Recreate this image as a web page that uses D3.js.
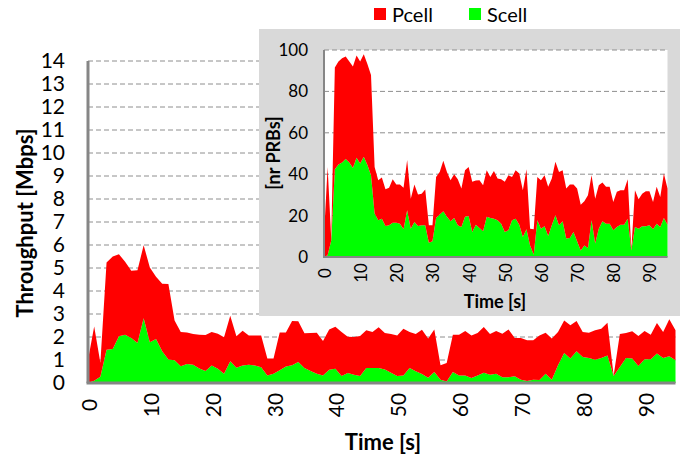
<!DOCTYPE html>
<html>
<head>
<meta charset="utf-8">
<script src="https://cdn.jsdelivr.net/npm/d3@7"></script>
<style>
body { margin: 0; background: #fff; }
svg text { font-family: Lato, "Open Sans", sans-serif; fill: #000; }
</style>
</head>
<body>
<div id="chart"></div>
<script>
// Data (1 sample per second)
// ============================================================================
const seconds = d3.range(0, 96);

// main chart, throughput [Mbps]
const mainScell = [0, 0.1, 0.27, 1.45, 1.48, 2.03, 2.1, 1.96, 1.74, 2.82,
    1.77, 1.91, 1.38, 1.02, 0.99, 0.73, 0.83, 0.79, 0.63, 0.52,
    0.76, 0.62, 0.4, 0.95, 0.66, 0.76, 0.79, 0.76, 0.69, 0.33,
    0.4, 0.55, 0.72, 0.77, 0.91, 0.65, 0.52, 0.4, 0.33, 0.58,
    0.62, 0.3, 0.43, 0.36, 0.3, 0.65, 0.65, 0.65, 0.59, 0.45,
    0.3, 0.33, 0.65, 0.51, 0.39, 0.23, 0.48, 0.14, 0.07, 0.48,
    0.33, 0.33, 0.22, 0.33, 0.45, 0.36, 0.4, 0.25, 0.25, 0.29,
    0.14, 0.09, 0.14, 0.13, 0.4, 0.14, 0.77, 1.3, 1.06, 1.38,
    1.13, 1.09, 1.01, 1.09, 1.2, 0.3, 0.7, 1.09, 1.06, 0.74,
    1.03, 1.03, 1.28, 1.09, 1.16, 0.99];
const mainPcell = [1.0, 2.36, 0.61, 3.79, 4.02, 3.57, 3.17, 2.92, 3.16, 3.17,
    3.25, 2.71, 2.94, 3.28, 1.73, 1.49, 1.37, 1.34, 1.47, 1.57,
    1.46, 1.52, 1.59, 1.97, 1.37, 1.51, 1.27, 1.31, 1.37, 0.73,
    0.66, 1.65, 1.48, 1.93, 1.77, 1.51, 1.65, 1.79, 1.5, 1.75,
    1.83, 1.92, 1.58, 1.64, 1.74, 1.64, 1.57, 1.77, 1.58, 1.68,
    1.77, 2.03, 1.57, 1.62, 1.93, 1.7, 1.85, 0.63, 0.8, 1.62,
    1.77, 1.93, 1.85, 1.84, 1.98, 1.77, 1.86, 1.89, 2.08, 1.67,
    1.82, 1.77, 1.72, 1.94, 1.79, 1.79, 1.45, 1.42, 1.45, 1.32,
    1.09, 1.1, 1.28, 1.27, 1.42, 0.03, 1.43, 1.08, 1.19, 1.3,
    1.23, 1.07, 1.33, 1.13, 1.61, 1.3];

// inset, nr PRBs
const insetScell = [0, 0.8, 8, 42.4, 44.7, 45.6, 47.3, 45.6, 43, 47.9,
    45.2, 48.4, 44.4, 39.5, 21, 17.7, 18.5, 15, 15.3, 16.6,
    16.6, 16.1, 13.4, 22.6, 13.7, 16.9, 15, 15.3, 15.3, 6.9,
    7.6, 18.9, 20.5, 22.1, 19.4, 17.3, 18.9, 15.3, 14.5, 19.4,
    19.8, 12.1, 15.6, 14, 12.4, 19.4, 18.9, 18.5, 17.7, 16.1,
    12.1, 12.9, 17.7, 18.5, 15.6, 9.7, 13.4, 5.6, 1.1, 17.7,
    13.7, 14.8, 10.2, 15.3, 20.2, 15.3, 17.3, 8.9, 9.2, 12.1,
    7.6, 3.2, 5.6, 4.4, 17.7, 6.5, 13.7, 17.3, 16.1, 16.1,
    12.9, 14.5, 15.6, 15.6, 18.5, 3.2, 14.5, 13.7, 14.8, 14.8,
    15.3, 13.4, 16.1, 14.5, 18.9, 15.6];
const insetPcell = [10, 42.7, 0.9, 49.1, 49.7, 50.4, 49.5, 48.8, 49, 49.4,
    49.2, 49.5, 48.8, 48.4, 22.5, 19.4, 19.9, 17.7, 18.1, 21,
    18.4, 18.9, 20, 24.2, 14.5, 18.1, 15.2, 15.3, 17.3, 8.4,
    7.7, 19.8, 20.6, 24.4, 21.7, 19.8, 21.1, 22.3, 18.6, 22.5,
    23.7, 24.2, 21.3, 23.1, 22.3, 22.5, 19.8, 23, 20.2, 21.5,
    24.2, 26.6, 21, 23.4, 24.7, 22.6, 29, 8.1, 12.3, 21,
    23.4, 24.7, 23.7, 22.6, 25.8, 25.8, 24.6, 24.2, 25.8, 22.9,
    25.5, 22.1, 21.3, 25.4, 21.8, 21.7, 21, 18.7, 17.8, 17.8,
    13.7, 17, 16.7, 16.7, 19.1, 0.5, 17.8, 14.2, 15.8, 17,
    16.5, 13.2, 17.8, 14.5, 21.4, 17.5];

const xTicks = [0, 10, 20, 30, 40, 50, 60, 70, 80, 90];
const mainYTicks = [0, 1, 2, 3, 4, 5, 6, 7, 8, 9, 10, 11, 12, 13, 14];
const insetYTicks = [0, 20, 40, 60, 80, 100];
const seriesNames = ["Pcell", "Scell"];

// Setup
// ============================================================================
const width = 698,
    height = 459,
    colors = {Pcell: "#ff0000", Scell: "#00ff00"},
    axisColor = "#868686",
    gridColor = "#8e8e8e";

const svg = d3.select("#chart")
    .append("svg")
        .attr("width", width)
        .attr("height", height);

const stack = d3.stack().keys(["Scell", "Pcell"]);

function drawPanel(g, x, y, scell, pcell, yTicks, opt) {
    const rows = seconds.map((s, i) => ({t: s, Scell: scell[i], Pcell: pcell[i]}));
    const layers = stack(rows);

    // gridlines
    g.selectAll(null)
        .data(yTicks.filter(d => d > 0))
        .enter()
        .append("line")
            .attr("x1", x.range()[0])
            .attr("x2", x.range()[1])
            .attr("y1", d => y(d))
            .attr("y2", d => y(d))
            .attr("stroke", gridColor)
            .attr("stroke-width", 1)
            .style("stroke-dasharray", "5,3");

    const area = d3.area()
        .x(d => x(d.data.t))
        .y0(d => y(d[0]))
        .y1(d => y(d[1]));

    g.selectAll(null)
        .data(layers)
        .enter()
        .append("path")
            .attr("d", area)
            .attr("fill", d => colors[d.key]);

    // axis lines
    g.append("line")
        .attr("x1", x.range()[0]).attr("x2", x.range()[0])
        .attr("y1", y.range()[1]).attr("y2", y.range()[0])
        .attr("stroke", axisColor).attr("stroke-width", opt.axisWidth);
    g.append("line")
        .attr("x1", x.range()[0] - opt.axisWidth / 2).attr("x2", x.range()[1])
        .attr("y1", y.range()[0]).attr("y2", y.range()[0])
        .attr("stroke", axisColor).attr("stroke-width", opt.axisWidth);

    // y tick labels
    const yAxis = g.append("g")
        .attr("transform", "translate(" + opt.yLabelX + ",0)")
        .call(d3.axisLeft(y).tickValues(yTicks).tickSize(0).tickPadding(0));
    yAxis.select(".domain").remove();
    yAxis.selectAll("text")
        .style("font-size", opt.fontSize + "px")
        .style("font-family", "Lato, sans-serif")
        .attr("fill", "#000");

    // x tick labels, rotated
    const xAxis = g.append("g")
        .attr("transform", "translate(0," + opt.xLabelY + ")")
        .call(d3.axisBottom(x).tickValues(xTicks).tickSize(0).tickPadding(0));
    xAxis.select(".domain").remove();
    xAxis.selectAll("text")
        .attr("y", 0)
        .attr("dy", null)
        .attr("transform", "rotate(-90)")
        .attr("text-anchor", "middle")
        .attr("dominant-baseline", "central")
        .style("font-size", opt.fontSize + "px")
        .style("font-family", "Lato, sans-serif")
        .attr("fill", "#000");

    // titles
    g.append("text")
        .attr("x", opt.xTitle[0])
        .attr("y", opt.xTitle[1])
        .attr("text-anchor", "middle")
        .attr("dominant-baseline", "central")
        .style("font-size", opt.titleSize + "px")
        .style("font-weight", "bold")
        .text("Time [s]");

    g.append("text")
        .attr("transform", "translate(" + opt.yTitle[0] + "," + opt.yTitle[1] + ") rotate(-90)")
        .attr("text-anchor", "middle")
        .attr("dominant-baseline", "central")
        .style("font-size", opt.titleSize + "px")
        .style("font-weight", "bold")
        .text(opt.yTitleText);
}

// Main chart
// ============================================================================
const xMain = d3.scaleLinear().domain([0, 95]).range([88, 675.5]);
const yMain = d3.scaleLinear().domain([0, 14]).range([383, 61]);

drawPanel(svg.append("g"), xMain, yMain, mainScell, mainPcell, mainYTicks, {
    axisWidth: 3,
    yLabelX: 65,
    xLabelY: 405,
    fontSize: 21,
    titleSize: 22,
    xTitle: [383, 441],
    yTitle: [24, 223],
    yTitleText: "Throughput [Mbps]",
});

// Inset
// ============================================================================
svg.append("rect")
    .attr("x", 259)
    .attr("y", 29)
    .attr("width", 421)
    .attr("height", 287)
    .attr("fill", "#d9d9d9");

const xInset = d3.scaleLinear().domain([0, 95]).range([324, 667.5]);
const yInset = d3.scaleLinear().domain([0, 100]).range([257, 50]);

svg.append("rect")
    .attr("x", 324)
    .attr("y", 50)
    .attr("width", 667.5 - 324)
    .attr("height", 207)
    .attr("fill", "#fff");

drawPanel(svg.append("g"), xInset, yInset, insetScell, insetPcell, insetYTicks, {
    axisWidth: 2,
    yLabelX: 308,
    xLabelY: 273,
    fontSize: 17,
    titleSize: 18,
    xTitle: [495, 301],
    yTitle: [273, 153],
    yTitleText: "[nr PRBs]",
});

// Legend
// ============================================================================
const legendX = [374, 469];
seriesNames.forEach((d, i) => {
    svg.append("rect")
        .attr("x", legendX[i])
        .attr("y", 8)
        .attr("width", 12)
        .attr("height", 12)
        .attr("fill", colors[d]);
    svg.append("text")
        .attr("x", legendX[i] + 18)
        .attr("y", 14)
        .attr("dominant-baseline", "central")
        .style("font-size", "20px")
        .text(d);
});
</script>
</body>
</html>
